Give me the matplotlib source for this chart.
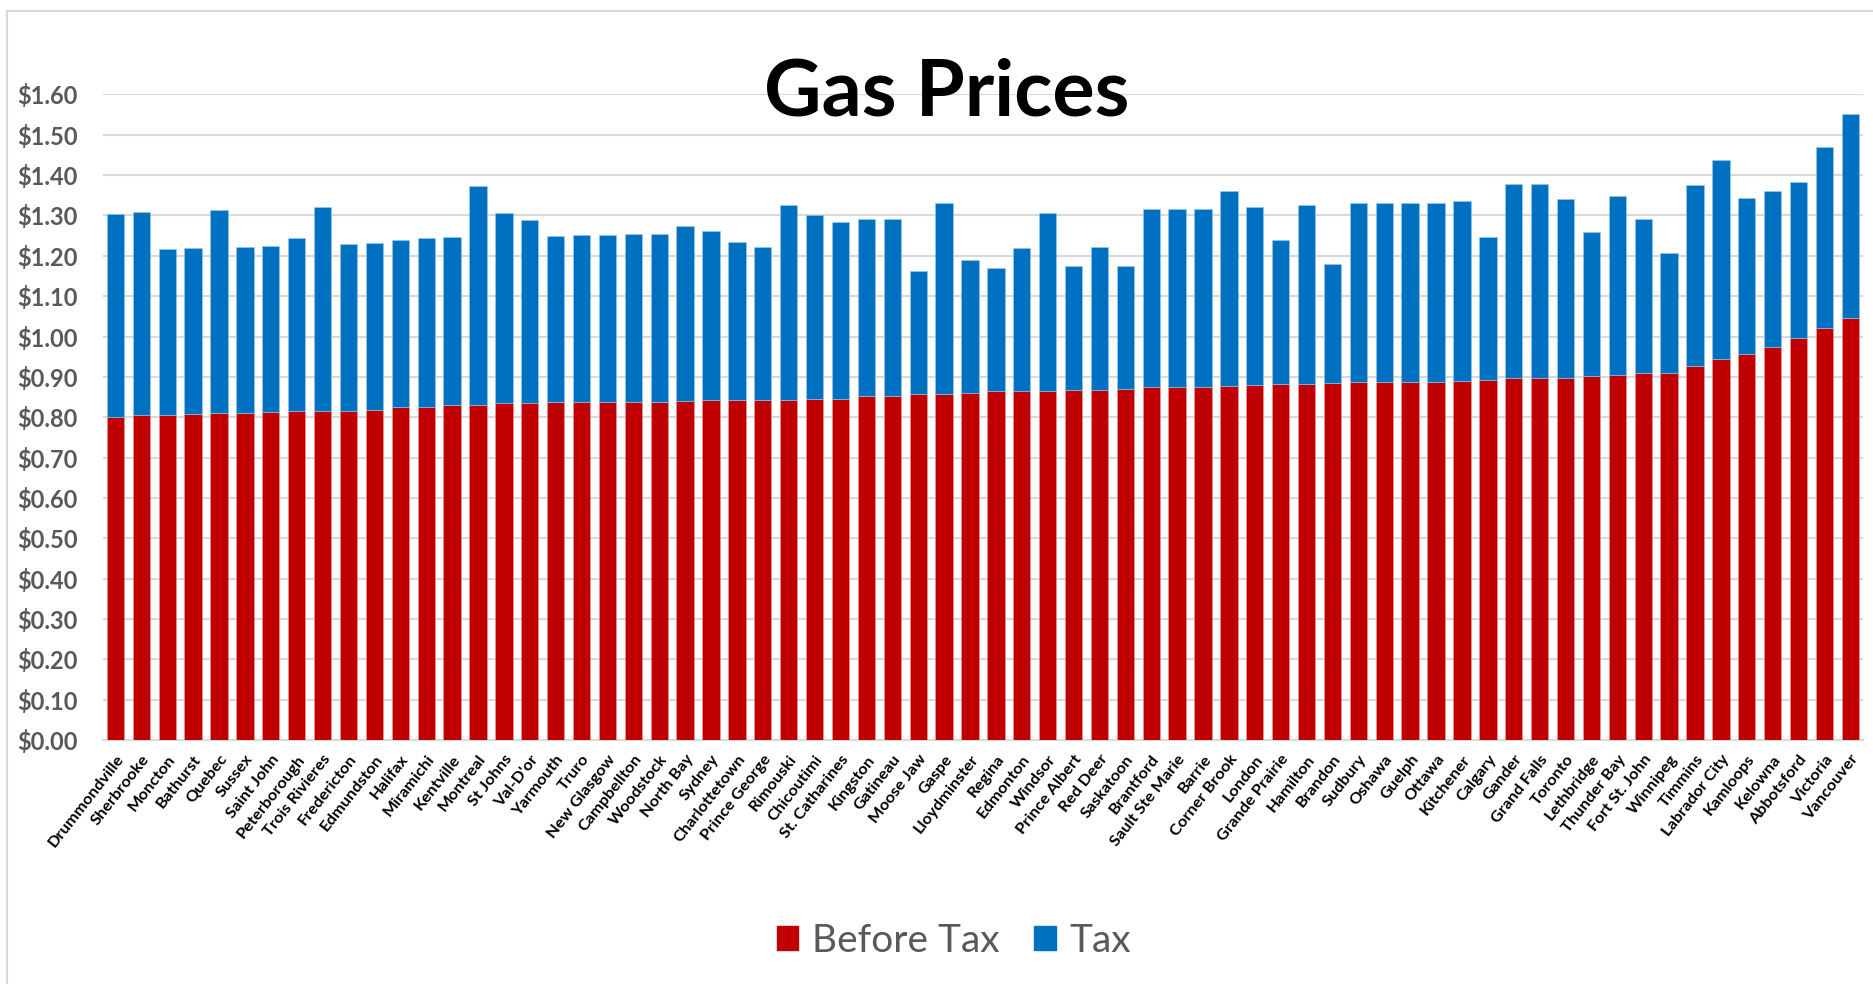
import matplotlib
matplotlib.use("Agg")
import matplotlib.pyplot as plt
from matplotlib.lines import Line2D
from matplotlib.patches import Patch
from matplotlib.ticker import FuncFormatter, MultipleLocator

cities = ["Drummondville", "Sherbrooke", "Moncton", "Bathurst", "Quebec", "Sussex",
          "Saint John", "Peterborough", "Trois Rivieres", "Fredericton", "Edmundston",
          "Halifax", "Miramichi", "Kentville", "Montreal", "St Johns", "Val-D'or",
          "Yarmouth", "Truro", "New Glasgow", "Campbellton", "Woodstock", "North Bay",
          "Sydney", "Charlottetown", "Prince George", "Rimouski", "Chicoutimi",
          "St. Catharines", "Kingston", "Gatineau", "Moose Jaw", "Gaspe", "Lloydminster",
          "Regina", "Edmonton", "Windsor", "Prince Albert", "Red Deer", "Saskatoon",
          "Brantford", "Sault Ste Marie", "Barrie", "Corner Brook", "London",
          "Grande Prairie", "Hamilton", "Brandon", "Sudbury", "Oshawa", "Guelph",
          "Ottawa", "Kitchener", "Calgary", "Gander", "Grand Falls", "Toronto",
          "Lethbridge", "Thunder Bay", "Fort St. John", "Winnipeg", "Timmins",
          "Labrador City", "Kamloops", "Kelowna", "Abbotsford", "Victoria", "Vancouver"]

before_tax = [0.800, 0.805, 0.805, 0.808, 0.811, 0.811, 0.814, 0.816, 0.816, 0.816,
              0.819, 0.826, 0.826, 0.831, 0.831, 0.834, 0.834, 0.837, 0.837, 0.837,
              0.837, 0.837, 0.840, 0.842, 0.842, 0.842, 0.842, 0.845, 0.845, 0.852,
              0.852, 0.858, 0.858, 0.860, 0.865, 0.865, 0.865, 0.868, 0.868, 0.870,
              0.875, 0.875, 0.875, 0.878, 0.881, 0.883, 0.883, 0.886, 0.888, 0.888,
              0.888, 0.888, 0.891, 0.893, 0.896, 0.896, 0.896, 0.901, 0.904, 0.909,
              0.909, 0.927, 0.945, 0.957, 0.973, 0.996, 1.021, 1.045]

total_price = [1.304, 1.309, 1.217, 1.219, 1.314, 1.221, 1.224, 1.245, 1.322, 1.229,
               1.232, 1.240, 1.243, 1.247, 1.373, 1.307, 1.289, 1.250, 1.252, 1.252,
               1.253, 1.253, 1.274, 1.261, 1.235, 1.222, 1.327, 1.302, 1.284, 1.292,
               1.292, 1.163, 1.330, 1.189, 1.169, 1.220, 1.307, 1.174, 1.222, 1.176,
               1.317, 1.317, 1.317, 1.361, 1.322, 1.239, 1.325, 1.181, 1.330, 1.332,
               1.332, 1.332, 1.335, 1.247, 1.378, 1.378, 1.340, 1.260, 1.348, 1.291,
               1.206, 1.376, 1.437, 1.343, 1.360, 1.383, 1.470, 1.551]

tax = [round(t - b, 3) for t, b in zip(total_price, before_tax)]

series_names = ["Before Tax", "Tax"]
RED = "#C00000"
BLUE = "#0070C0"
GRID = "#D9D9D9"
TEXT_GRAY = "#595959"

plt.rcParams['font.family'] = ['Lato', 'DejaVu Sans']

fig = plt.figure(figsize=(18.74, 9.84), dpi=100)
ax = fig.add_axes([0.0547, 0.248, 0.9396, 0.656])

x = list(range(len(cities)))
ax.bar(x, before_tax, width=0.67, color=RED, edgecolor="#E8A0A0", linewidth=0.4, zorder=3)
ax.bar(x, tax, bottom=before_tax, width=0.67, color=BLUE, edgecolor="#9CC8EA",
       linewidth=0.4, zorder=3)

ax.set_xlim(-0.5, len(cities) - 0.5)
ax.set_ylim(0, 1.6)
ax.yaxis.set_major_locator(MultipleLocator(0.1))
ax.yaxis.set_major_formatter(FuncFormatter(lambda v, p: f"${v:.2f}"))
ax.grid(axis='y', color=GRID, linewidth=1.5, zorder=0)
ax.set_axisbelow(True)
for s in ['top', 'right', 'left']:
    ax.spines[s].set_visible(False)
ax.spines['bottom'].set_color(GRID)
ax.spines['bottom'].set_linewidth(1.5)
ax.tick_params(axis='both', length=0)
ax.tick_params(axis='y', pad=18, labelsize=17, labelcolor=TEXT_GRAY)
for lab in ax.get_yticklabels():
    lab.set_fontweight('bold')

ax.set_xticks(x)
ax.set_xticklabels(cities, rotation=52, ha='right', va='top', rotation_mode='anchor',
                   fontsize=11.8, fontweight='bold', color='black')
ax.tick_params(axis='x', pad=9)

fig.text(0.505, 0.883, "Gas Prices", ha='center', va='baseline', fontsize=57,
         fontweight='bold', color='black', zorder=5)

handles = [Patch(facecolor=RED, edgecolor=RED), Patch(facecolor=BLUE, edgecolor=BLUE)]
leg = fig.legend(handles, series_names, loc='center', bbox_to_anchor=(0.509, 0.044),
                 ncol=2, frameon=False, fontsize=28, handlelength=0.55, handleheight=0.55,
                 handletextpad=0.35, columnspacing=0.9)
for t in leg.get_texts():
    t.set_color(TEXT_GRAY)

# light frame lines of the chart area (left and top)
fig.add_artist(Line2D([0.0035, 0.0035], [0, 0.989], transform=fig.transFigure,
                      color="#D9D9D9", linewidth=1.5))
fig.add_artist(Line2D([0.0035, 1.0], [0.989, 0.989], transform=fig.transFigure,
                      color="#D9D9D9", linewidth=1.5))

fig.savefig("out.png", dpi=100)
